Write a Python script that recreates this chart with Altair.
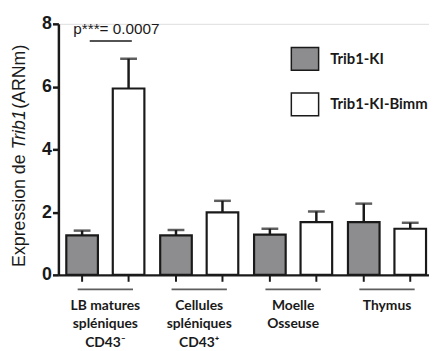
import altair as alt
import pandas as pd

groups = ["LB matures|spléniques|CD43⁻", "Cellules|spléniques|CD43⁺", "Moelle|Osseuse", "Thymus"]
series = ["Trib1-KI", "Trib1-KI-Bimm"]
ki_mean = [1.26, 1.26, 1.28, 1.68]
ki_upper = [1.41, 1.43, 1.47, 2.27]
bimm_mean = [5.94, 1.99, 1.68, 1.47]
bimm_upper = [6.89, 2.36, 2.02, 1.66]
y_ticks = [0, 2, 4, 6, 8]
colors = ["#8d8d8f", "#ffffff"]
p_label = "p***= 0.0007"
title_parts = ["Expression de ", "Trib1", " (ARNm)"]

rows = []
for g, m, u in zip(groups, ki_mean, ki_upper):
    rows.append(dict(group=g, series=series[0], mean=m, upper=u))
for g, m, u in zip(groups, bimm_mean, bimm_upper):
    rows.append(dict(group=g, series=series[1], mean=m, upper=u))
df = pd.DataFrame(rows)
gdf = pd.DataFrame({"group": groups})

W, H = 375, 254
INK = "#1a1a1a"

x_enc = alt.X(
    "group:N", sort=groups,
    scale=alt.Scale(range=[0, 380], paddingInner=0, paddingOuter=0),
    axis=alt.Axis(title=None, ticks=False, domainWidth=2.5, domainColor=INK,
                  labelExpr="split(datum.label, '|')", labelFont="Lato",
                  labelFontWeight="bold", labelFontSize=14, labelColor=INK,
                  labelPadding=24, labelLineHeight=18.5, labelAngle=0),
)
xo_enc = alt.XOffset("series:N", sort=series,
                     scale=alt.Scale(paddingInner=0.32, paddingOuter=0.17))
y_scale = alt.Scale(domain=[0, 8], nice=False)

base = alt.Chart(df)

bars = base.mark_bar(stroke=INK, strokeWidth=2.2).encode(
    x=x_enc, xOffset=xo_enc,
    y=alt.Y("mean:Q", scale=y_scale,
            axis=alt.Axis(values=y_ticks, title=None, grid=False, domainWidth=2.5,
                          domainColor=INK, tickWidth=2.5, tickColor=INK, tickSize=6,
                          labelFont="Liberation Sans", labelFontWeight="bold",
                          labelFontSize=18, labelColor=INK, labelPadding=1)),
    color=alt.Color("series:N", sort=series,
                    scale=alt.Scale(domain=series, range=colors),
                    legend=alt.Legend(title=None, orient="none", legendX=237, legendY=23,
                                      symbolType="M-1.2,-1H1.2V1H-1.2Z", symbolSize=529,
                                      symbolStrokeColor=INK, symbolStrokeWidth=1.5,
                                      labelFont="Lato", labelFontWeight="bold",
                                      labelFontSize=15, labelColor=INK, labelOffset=13,
                                      rowPadding=17, padding=0)),
)

err = base.mark_rule(color=INK, strokeWidth=2.5).encode(
    x=x_enc, xOffset=xo_enc, y=alt.Y("mean:Q", scale=y_scale), y2="upper:Q")
caps = base.mark_tick(color=INK, thickness=2.5, size=17, orient="horizontal").encode(
    x=x_enc, xOffset=xo_enc, y=alt.Y("upper:Q", scale=y_scale))

xticks = base.mark_rule(color=INK, strokeWidth=2).encode(
    x=x_enc, xOffset=xo_enc, y=alt.value(H), y2=alt.value(H + 7))
underline = alt.Chart(gdf).mark_tick(color=INK, thickness=1.8, size=56,
                                     orient="horizontal").encode(
    x=x_enc, y=alt.value(H + 14.7))

one = pd.DataFrame({"t": [p_label]})
p_text = alt.Chart(one).mark_text(font="Liberation Sans", fontSize=15.5, color=INK,
                                  align="left", baseline="middle").encode(
    x=alt.value(15), y=alt.value(5), text="t:N")
p_line = alt.Chart(one).mark_rule(color=INK, strokeWidth=1.5).encode(
    x=alt.value(31.7), x2=alt.value(74.3), y=alt.value(17.3))

tstarts = [246, 127, 86]
tlayers = []
for part, ys, style in zip(title_parts, tstarts, ["normal", "italic", "normal"]):
    tlayers.append(
        alt.Chart(pd.DataFrame({"t": [part]})).mark_text(
            font="Liberation Sans", fontSize=18, color=INK, fontStyle=style,
            angle=270, align="left", baseline="middle").encode(
            x=alt.value(-39), y=alt.value(ys), text="t:N"))

chart = alt.layer(bars, err, caps, xticks, underline, p_line, p_text, *tlayers).properties(
    width=W, height=H,
    autosize=alt.AutoSizeParams(type="none"),
    padding={"left": 51, "top": 14, "right": 0, "bottom": 75},
).configure_view(stroke=None).configure(background="white")

chart.save("out.html", embed_options={"renderer": "svg", "actions": False})
